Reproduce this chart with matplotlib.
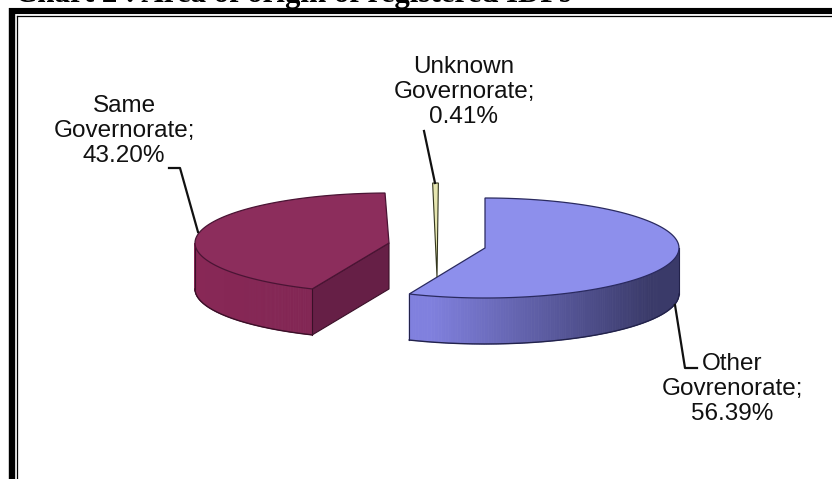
import numpy as np
import matplotlib
matplotlib.use("Agg")
import matplotlib.pyplot as plt
from matplotlib.patches import Polygon

labels = ["Same\nGovernorate;\n43.20%", "Unknown\nGovernorate;\n0.41%", "Other\nGovrenorate;\n56.39%"]
shares = [43.20, 0.41, 56.39]
title = "Chart 2 : Area of origin of registered IDPs"

RX, RY, DEPTH = 194, 50, 46


def color_mix(a, b, t):
    return tuple(((1 - t) * np.array(a) + t * np.array(b)) / 255)


def rim(cx, cy, a0, a1, n=120):
    # angles in degrees, clockwise from 12 o'clock
    t = np.radians(np.linspace(a0, a1, n))
    return cx + RX * np.sin(t), cy - RY * np.cos(t)


def draw_side(ax, cx, cy, a0, a1, c_left, c_right, xmin, xmax, edge):
    xs, ys = rim(cx, cy, a0, a1, 160)
    for i in range(len(xs) - 1):
        t = (0.5 * (xs[i] + xs[i + 1]) - xmin) / (xmax - xmin)
        c = color_mix(c_left, c_right, np.clip(t, 0, 1))
        q = [(xs[i], ys[i]), (xs[i + 1], ys[i + 1]), (xs[i + 1], ys[i + 1] + DEPTH), (xs[i], ys[i] + DEPTH)]
        ax.add_patch(Polygon(q, closed=True, fc=c, ec=c, lw=0.6, zorder=2))
    ax.plot(xs, ys + DEPTH, color=edge, lw=1, zorder=3)
    ax.plot([xs[0], xs[0]], [ys[0], ys[0] + DEPTH], color=edge, lw=0.8, zorder=3)
    ax.plot([xs[-1], xs[-1]], [ys[-1], ys[-1] + DEPTH], color=edge, lw=0.8, zorder=3)


def draw_top(ax, cx, cy, a0, a1, color, edge):
    xs, ys = rim(cx, cy, a0, a1)
    pts = [(cx, cy)] + list(zip(xs, ys))
    ax.add_patch(Polygon(pts, closed=True, fc=color, ec=edge, lw=0.9, zorder=4))


fig = plt.figure(figsize=(8.32, 4.79), dpi=100)
ax = fig.add_axes([0, 0, 1, 1])
ax.set_xlim(0, 832)
ax.set_ylim(479, 0)
ax.axis("off")

# page frame, runs off the right and the bottom
ax.plot([9, 840], [11, 11], color="black", lw=4.4, solid_capstyle="butt", zorder=1)
ax.plot([12, 12], [8, 490], color="black", lw=4.6, solid_capstyle="butt", zorder=1)
ax.plot([16.5, 840], [15.6, 15.6], color="black", lw=0.9, zorder=1)
ax.plot([16.5, 16.5], [15.6, 490], color="black", lw=0.9, zorder=1)

ax.text(15, 1.5, title, family="Liberation Serif", fontweight="bold", fontsize=22.2,
        ha="left", va="baseline", color="black", zorder=6)

same_share, unknown_share, other_share = shares
other_end = other_share * 3.6
same_start = other_end + 0.3
same_end = same_start + same_share * 3.6

# Other (blue) slice
cx, cy = 485, 248
draw_side(ax, cx, cy, 90, other_end, (128, 128, 222), (58, 58, 105), 430, 650, "#22224a")
draw_top(ax, cx, cy, 0, other_end, "#8d8fec", "#2a2a60")

# Same (maroon) slice
cx, cy = 389, 243
xs, ys = rim(cx, cy, same_start, same_start + 0.01, 2)
face = [(cx, cy), (xs[0], ys[0]), (xs[0], ys[0] + DEPTH), (cx, cy + DEPTH)]
ax.add_patch(Polygon(face, closed=True, fc="#661f46", ec="#3a1028", lw=0.8, zorder=2))
draw_side(ax, cx, cy, same_start, 270, (136, 40, 86), (130, 38, 84), 195, 312, "#3a1028")
draw_top(ax, cx, cy, same_start, same_end, "#8c2d5c", "#4a1434")

# Unknown sliver, its width comes from the share
tip_x, tip_y, far_x, far_y = 437, 277, 435.5, 183
half = RX * np.sin(np.radians(unknown_share * 3.6 / 2)) * 1.15
ax.add_patch(Polygon([(tip_x, tip_y), (far_x - half, far_y), (far_x + half, far_y)], closed=True,
                     fc="#e6e6b0", ec="#33361e", lw=0.8, zorder=4))

# leader lines
ax.plot([169, 180, 198], [168, 168, 232], color="#111111", lw=1.6, zorder=5)
ax.plot([424, 435], [131, 183], color="#111111", lw=1.6, zorder=5)
ax.plot([675, 685, 697], [305, 368, 368], color="#111111", lw=1.6, zorder=5)

# data labels
label_pos = [(124, 131), (464, 92), (732, 389)]
for text, (x, y) in zip(labels, label_pos):
    ax.text(x, y, text, family="Liberation Sans", fontsize=17.5, ha="center", va="center",
            linespacing=1.175, color="#111111", zorder=6)

fig.savefig("out.png", dpi=100)
